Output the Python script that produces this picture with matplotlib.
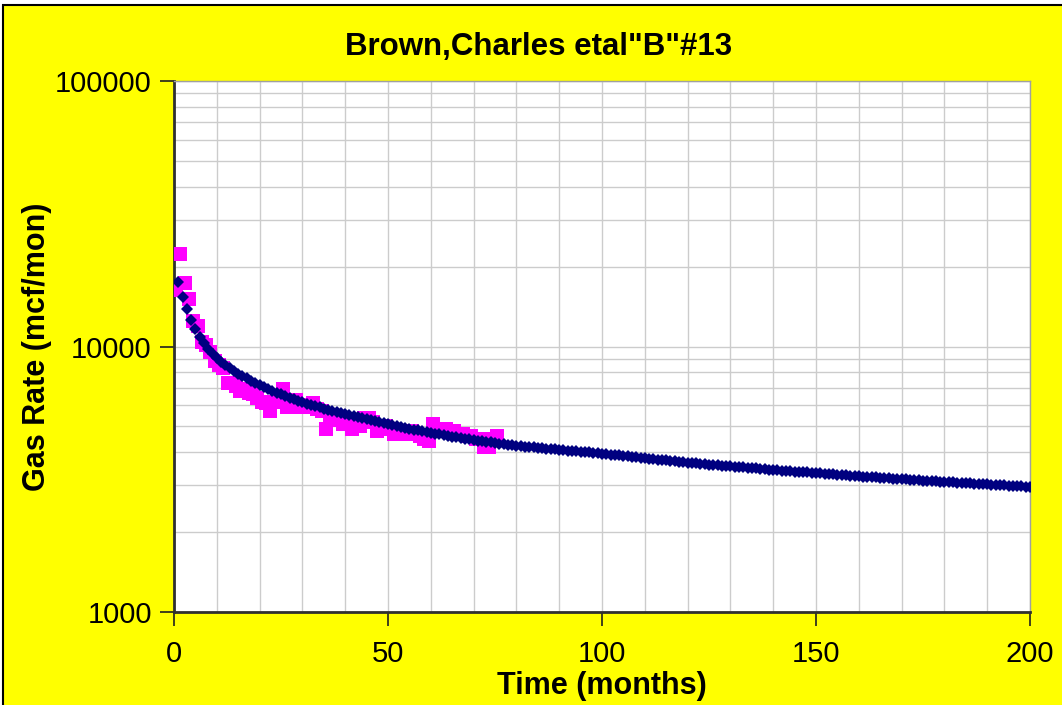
import numpy as np
import matplotlib.pyplot as plt
from matplotlib.patches import Rectangle
from matplotlib.ticker import FixedLocator, LogLocator, NullFormatter

plt.rcParams['font.family'] = ['Liberation Sans', 'DejaVu Sans']

# actual monthly gas rate (mcf/mon), plotted at mid-month
actual_month = np.arange(76) + 0.5
actual_rate = [16300, 22400, 17300, 15100, 12500, 11900, 10400, 10100, 9500, 8800,
               8500, 8300, 7300, 7300, 7100, 6800, 6900, 6700, 6600, 6400,
               6200, 6100, 5700, 6200, 6200, 6900, 5900, 6100, 6300, 5900,
               6000, 5900, 6100, 5800, 5700, 4900, 5300, 5400, 5300, 5100,
               5100, 4900, 5100, 5000, 5400, 5400, 5200, 4800, 4900, 5000,
               4900, 4700, 4800, 4700, 4800, 4800, 4700, 4600, 4500, 4400,
               5100, 4900, 4800, 4900, 4800, 4800, 4700, 4700, 4600, 4600,
               4500, 4500, 4200, 4200, 4500, 4600]

# forecast curve, months 1..200
fit_month = np.arange(1, 201)
fit_rate = [17500, 15400, 13900, 12600, 11650, 10900, 10300, 9800, 9400, 9050,
            8780, 8530, 8310, 8100, 7910, 7740, 7580, 7430, 7290, 7150,
            7030, 6915, 6805, 6700, 6600, 6505, 6415, 6330, 6250, 6170,
            6095, 6025, 5960, 5895, 5835, 5775, 5720, 5665, 5610, 5560,
            5510, 5460, 5410, 5365, 5320, 5275, 5230, 5185, 5140, 5100,
            5060, 5020, 4980, 4940, 4900, 4865, 4830, 4795, 4760, 4725,
            4695, 4665, 4635, 4605, 4575, 4545, 4515, 4490, 4465, 4440,
            4418, 4396, 4374, 4352, 4330, 4310, 4290, 4270, 4250, 4230,
            4215, 4200, 4185, 4170, 4155, 4140, 4125, 4110, 4095, 4080,
            4067, 4054, 4041, 4028, 4015, 4002, 3989, 3976, 3963, 3950,
            3934, 3918, 3903, 3887, 3872, 3856, 3841, 3825, 3810, 3795,
            3781, 3766, 3752, 3737, 3723, 3708, 3694, 3679, 3665, 3650,
            3638, 3627, 3615, 3604, 3592, 3581, 3569, 3558, 3546, 3535,
            3525, 3514, 3504, 3493, 3483, 3472, 3462, 3451, 3441, 3430,
            3420, 3411, 3401, 3392, 3382, 3373, 3363, 3354, 3344, 3335,
            3326, 3317, 3308, 3299, 3290, 3281, 3272, 3263, 3254, 3245,
            3237, 3229, 3221, 3213, 3205, 3197, 3189, 3181, 3173, 3165,
            3158, 3150, 3143, 3135, 3128, 3120, 3113, 3105, 3098, 3090,
            3083, 3076, 3070, 3063, 3056, 3049, 3042, 3036, 3029, 3022,
            3016, 3010, 3004, 2997, 2991, 2985, 2979, 2972, 2966, 2960]

x_ticks = [0, 50, 100, 150, 200]
y_ticks = [1000, 10000, 100000]

fig = plt.figure(figsize=(10.62, 7.05), dpi=100, facecolor='white')
# yellow chart area with black border (cropped at right/bottom)
fig.patches.append(Rectangle((3 / 1062, -0.05), 1.1, 1 - 5 / 705 + 0.05,
                             transform=fig.transFigure, facecolor='#FFFF00',
                             edgecolor='black', lw=1.5, zorder=-5))

ax = fig.add_axes([174 / 1062, 1 - 612 / 705, 856 / 1062, 531 / 705])
ax.set_facecolor('white')

ax.plot(actual_month, actual_rate, 's', color='#FF00FF', markersize=10,
        markeredgewidth=0, zorder=3)
ax.plot(fit_month, fit_rate, 'D', color='#000080', markersize=6.5,
        markeredgewidth=0, zorder=4)

ax.set_yscale('log')
ax.set_xlim(0, 200)
ax.set_ylim(1000, 100000)
ax.set_xticks(x_ticks)
ax.set_yticks(y_ticks)
ax.set_yticklabels([str(v) for v in y_ticks])
ax.xaxis.set_minor_locator(FixedLocator(np.arange(0, 201, 10)))
ax.yaxis.set_minor_locator(LogLocator(base=10, subs=np.arange(2, 10)))
ax.yaxis.set_minor_formatter(NullFormatter())

ax.grid(True, which='both', color='#cccccc', lw=1)
ax.set_axisbelow(True)
ax.tick_params(which='minor', length=0)
ax.tick_params(which='major', direction='out', length=10, width=1.2,
               labelsize=21, color='#202020', pad=10)
ax.tick_params(axis='y', pad=6)

for s in ['top', 'right']:
    ax.spines[s].set_color('#a0a0a0')
    ax.spines[s].set_linewidth(1)
for s in ['left', 'bottom']:
    ax.spines[s].set_color('#303030')
    ax.spines[s].set_linewidth(2)

fig.text(539 / 1062, 1 - 47 / 705, 'Brown,Charles etal"B"#13', fontsize=22.5,
         fontweight='bold', ha='center', va='center')
ax.set_xlabel('Time (months)', fontsize=22, fontweight='bold', labelpad=2)
ax.set_ylabel('Gas Rate (mcf/mon)', fontsize=22, fontweight='bold')
ax.yaxis.set_label_coords(-122 / 856, 0.5)

fig.savefig('out.png', dpi=100, facecolor=fig.get_facecolor())
